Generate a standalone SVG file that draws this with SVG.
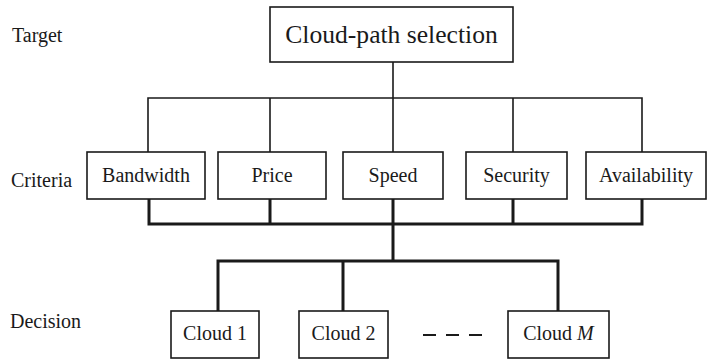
<svg xmlns="http://www.w3.org/2000/svg" width="715" height="361" viewBox="0 0 715 361">
<style>
.box{fill:#fff;stroke:#1a1a1a;stroke-width:1.6}
.thin{fill:none;stroke:#1a1a1a;stroke-width:1.6}
.thick{fill:none;stroke:#1a1a1a;stroke-width:3}
</style>
<rect width="715" height="361" fill="#fff"/>
<g font-family="Liberation Serif, Times New Roman, serif" font-size="20" fill="#1a1a1a">
<g id="labels">
<text x="12" y="42">Target</text>
<text x="11" y="187">Criteria</text>
<text x="10" y="328">Decision</text>
</g>
<g id="connectors">
<path class="thin" d="M393 62V98M148 152V98H642V152M270 98V152M393 98V152M513 98V152"/>
<path class="thick" d="M149 199V224H642V199M270 199V224M393 199V261M513 199V224M218 311V261H558V311M343 261V311"/>
<path d="M423 335H482" stroke="#1a1a1a" stroke-width="2" stroke-dasharray="13 10"/>
</g>
<g text-anchor="middle">
<g id="target"><rect class="box" x="270" y="7" width="243" height="55"/><text x="391.5" y="43" font-size="25.6">Cloud-path selection</text></g>
<g id="bandwidth"><rect class="box" x="87" y="152" width="118" height="47"/><text x="146" y="182">Bandwidth</text></g>
<g id="price"><rect class="box" x="218" y="152" width="108" height="47"/><text x="272" y="182">Price</text></g>
<g id="speed"><rect class="box" x="343" y="152" width="100" height="47"/><text x="393" y="182">Speed</text></g>
<g id="security"><rect class="box" x="466" y="152" width="101" height="47"/><text x="516.5" y="182">Security</text></g>
<g id="availability"><rect class="box" x="586" y="152" width="120" height="47"/><text x="646" y="182">Availability</text></g>
<g id="cloud1"><rect class="box" x="171" y="311" width="88" height="47"/><text x="215" y="340">Cloud 1</text></g>
<g id="cloud2"><rect class="box" x="299" y="311" width="89" height="47"/><text x="343.5" y="340">Cloud 2</text></g>
<g id="cloudM"><rect class="box" x="508" y="311" width="101" height="47"/><text x="558.5" y="340">Cloud <tspan font-style="italic">M</tspan></text></g>
</g>
</g>
</svg>
